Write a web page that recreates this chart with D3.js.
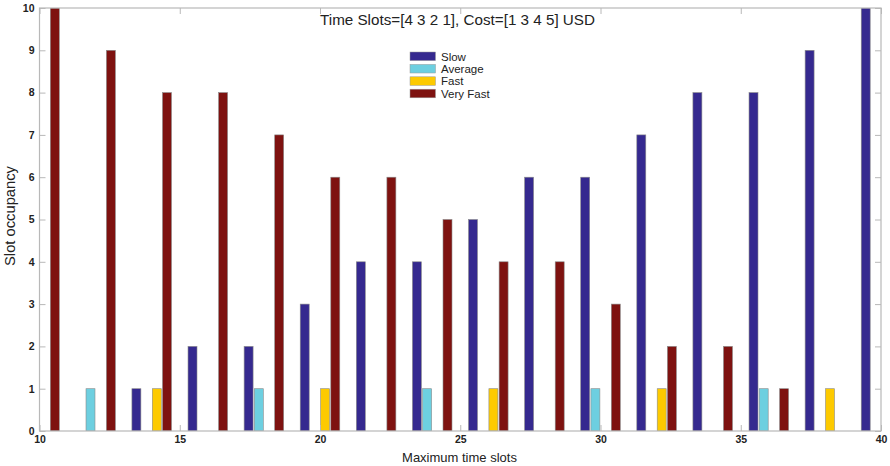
<!DOCTYPE html>
<html><head><meta charset="utf-8">
<script src="https://cdn.jsdelivr.net/npm/d3@7"></script>
<style>body{margin:0;background:#fff}svg{display:block}text{font-family:Arial,"Liberation Sans",sans-serif}</style>
</head><body>
<svg id="c" width="890" height="466"></svg>
<script>
const groups = [10,12,14,16,18,20,22,24,26,28,30,32,34,36,38,40];
const slow     = [0,0,1,2,2,3,4,4,5,6,6,7,8,8,9,10];
const average  = [0,1,0,0,1,0,0,1,0,0,1,0,0,1,0,0];
const fast     = [0,0,1,0,0,1,0,0,1,0,0,1,0,0,1,0];
const veryFast = [10,9,8,8,7,6,6,5,4,4,3,2,2,1,0,0];
const seriesNames = ["Slow","Average","Fast","Very Fast"];
const seriesValues = [slow, average, fast, veryFast];
const colors = ["#35298f","#6dcfe0","#fdca00","#7e1210"];
const xTicks = [10,15,20,25,30,35,40];
const yTicks = [0,1,2,3,4,5,6,7,8,9,10];
const titleText = "Time Slots=[4 3 2 1], Cost=[1 3 4 5] USD";
const xLabel = "Maximum time slots";
const yLabel = "Slot occupancy";

const svg = d3.select("#c");
const L = 39.5, R = 881, T = 8, B = 431;
const x = d3.scaleLinear().domain([10,40]).range([L,R]);
const y = d3.scaleLinear().domain([0,10]).range([B,T]);
const inner = d3.scaleBand().domain(seriesNames).range([-0.727,0.727]).paddingInner(0.12).paddingOuter(0.06);

const data = [];
seriesNames.forEach((s,si)=>groups.forEach((g,gi)=>{
  const v = seriesValues[si][gi];
  if (v>0) data.push({s,si,g,v});
}));

svg.append("clipPath").attr("id","pc").append("rect")
  .attr("x",L).attr("y",T).attr("width",R-L).attr("height",B-T);

svg.append("g").attr("clip-path","url(#pc)").selectAll("rect").data(data).join("rect")
  .attr("x",d=>x(d.g+inner(d.s)))
  .attr("width",d=>x(d.g+inner(d.s)+inner.bandwidth())-x(d.g+inner(d.s)))
  .attr("y",d=>y(d.v))
  .attr("height",d=>y(0)-y(d.v))
  .attr("fill",d=>colors[d.si])
  .attr("stroke","#8a8a8a").attr("stroke-width",0.6);

// axes
const axColor = "#b8b8b8";
const tl = 6;
const gx = svg.append("g").attr("transform",`translate(0,${B})`)
  .call(d3.axisBottom(x).tickValues(xTicks).tickSize(-tl).tickPadding(6).tickFormat(d3.format("d")));
const gxt = svg.append("g").attr("transform",`translate(0,${T})`)
  .call(d3.axisTop(x).tickValues(xTicks).tickSize(-tl).tickFormat(""));
const gy = svg.append("g").attr("transform",`translate(${L},0)`)
  .call(d3.axisLeft(y).tickValues(yTicks).tickSize(-tl).tickPadding(5).tickFormat(d3.format("d")));
const gyr = svg.append("g").attr("transform",`translate(${R},0)`)
  .call(d3.axisRight(y).tickValues(yTicks).tickSize(-tl).tickFormat(""));
[gx,gxt,gy,gyr].forEach(g=>{
  g.select(".domain").remove();
  g.selectAll(".tick line").attr("stroke",axColor);
  g.selectAll(".tick text").attr("fill","#222").attr("font-size",10.5).attr("font-weight","bold");
});
gx.selectAll(".tick text").attr("dy","0.6em");
svg.append("rect").attr("x",L).attr("y",T).attr("width",R-L).attr("height",B-T)
  .attr("fill","none").attr("stroke",axColor).attr("stroke-width",1.2);

function fit(sel, target){
  const fs = +sel.attr("font-size");
  const w = sel.node().getComputedTextLength();
  if (w>0) sel.attr("font-size", fs*target/w);
}

// title
const t = svg.append("text").attr("x",457.5).attr("y",25).attr("text-anchor","middle")
  .attr("font-size",13.6).attr("fill","#222").text(titleText);
fit(t,275);

// labels
const xl = svg.append("text").attr("x",459.5).attr("y",462).attr("text-anchor","middle")
  .attr("font-size",12).attr("fill","#222").text(xLabel);
fit(xl,115);
const yl = svg.append("text").attr("transform","translate(15,216) rotate(-90)").attr("text-anchor","middle")
  .attr("font-size",12).attr("fill","#222").text(yLabel);
fit(yl,100);

// legend
const lg = svg.append("g").attr("transform","translate(410,52)");
seriesNames.forEach((s,i)=>{
  const yy = i*12.4;
  lg.append("rect").attr("x",0).attr("y",yy).attr("width",25.5).attr("height",8.6)
    .attr("fill",colors[i]).attr("stroke","#999").attr("stroke-width",0.5);
  lg.append("text").attr("x",31).attr("y",yy+4.5).attr("dy","0.35em")
    .attr("font-size",11.5).attr("fill","#222").text(s);
});
</script>
</body></html>
